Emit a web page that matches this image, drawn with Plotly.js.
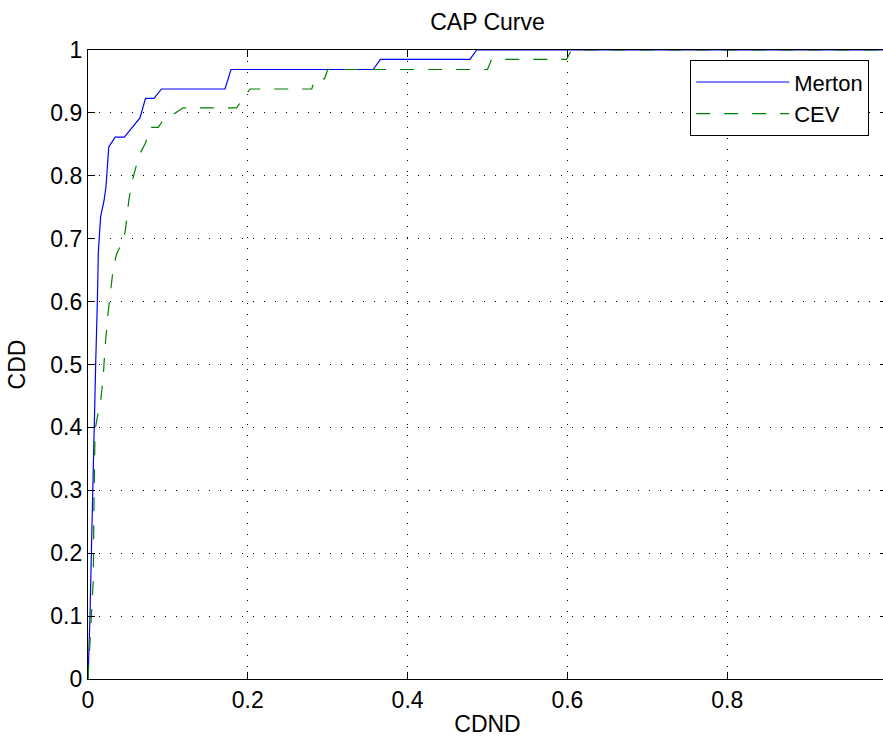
<!DOCTYPE html>
<html>
<head>
<meta charset="utf-8">
<script src="https://cdn.plot.ly/plotly-3.0.1.min.js"></script>
<style>
html, body { margin: 0; padding: 0; overflow: hidden; background: #fff; }
#chart { width: 890px; height: 740px; }
</style>
</head>
<body>
<div id="chart"></div>
<script>
// CAP curve data
const mertonX = [0, 0.0013, 0.0025, 0.0042, 0.0058, 0.0075, 0.0096, 0.0117, 0.013, 0.0158, 0.02, 0.0225, 0.026, 0.034, 0.0455, 0.065, 0.072, 0.0826, 0.092, 0.1715, 0.179, 0.357, 0.366, 0.478, 0.4865, 1];
const mertonY = [0, 0.05, 0.1, 0.2, 0.3, 0.417, 0.5, 0.6, 0.68, 0.735, 0.76, 0.783, 0.846, 0.8615, 0.8615, 0.892, 0.923, 0.923, 0.938, 0.938, 0.969, 0.969, 0.985, 0.985, 1, 1];

const cevX = [0, 0.001, 0.0033, 0.0054, 0.0067, 0.0072, 0.0078, 0.0088, 0.0125, 0.0158, 0.019, 0.0215, 0.025, 0.029, 0.0316, 0.0354, 0.038, 0.0441, 0.0471, 0.051, 0.0546, 0.064, 0.072, 0.0776, 0.088, 0.092, 0.119, 0.186, 0.2028, 0.28, 0.284, 0.296, 0.3, 0.5, 0.505, 0.599, 0.605, 1];
const cevY = [0, 0.025, 0.078, 0.115, 0.16, 0.25, 0.35, 0.396, 0.422, 0.441, 0.48, 0.53, 0.58, 0.625, 0.653, 0.674, 0.682, 0.695, 0.7165, 0.76, 0.788, 0.833, 0.852, 0.877, 0.877, 0.885, 0.908, 0.908, 0.938, 0.938, 0.954, 0.954, 0.969, 0.969, 0.985, 0.985, 1, 1];

const seriesNames = ["Merton", "CEV"];
const xTicks = [0, 0.2, 0.4, 0.6, 0.8, 1];
const xTickText = ["0", "0.2", "0.4", "0.6", "0.8", "1"];
const yTicks = [0, 0.1, 0.2, 0.3, 0.4, 0.5, 0.6, 0.7, 0.8, 0.9, 1];
const yTickText = ["0", "0.1", "0.2", "0.3", "0.4", "0.5", "0.6", "0.7", "0.8", "0.9", "1"];

const FONT = "Liberation Sans, Arial, Helvetica, sans-serif";
const FS = 23;

const traces = [
  { x: mertonX, y: mertonY, name: seriesNames[0], type: "scatter", mode: "lines",
    line: { color: "#0000ff", width: 1.2 } },
  { x: cevX, y: cevY, name: seriesNames[1], type: "scatter", mode: "lines",
    line: { color: "#008000", width: 1.2, dash: "14px,14px" } }
];

const axisCommon = {
  showline: true, linecolor: "#000", linewidth: 1.2, mirror: "ticks",
  ticks: "inside", ticklen: 7, tickcolor: "#000", tickwidth: 1,
  showgrid: true, gridcolor: "#000", gridwidth: 1, griddash: "1px,10px",
  zeroline: false, tickfont: { family: FONT, size: FS, color: "#000" },
  fixedrange: true
};

const layout = {
  width: 890, height: 740,
  margin: { l: 88, r: 3, t: 50, b: 61, autoexpand: false },
  paper_bgcolor: "#fff", plot_bgcolor: "#fff",
  font: { family: FONT, size: FS, color: "#000" },
  title: { text: "CAP Curve", font: { family: FONT, size: FS, color: "#000" },
           x: 0.5, xref: "paper", xanchor: "center", y: 1 - 22 / 740, yref: "container", yanchor: "middle" },
  xaxis: Object.assign({}, axisCommon, {
    range: [0, 1], tickvals: xTicks, ticktext: xTickText,
    title: { text: "CDND", font: { family: FONT, size: FS, color: "#000" }, standoff: 4 },
    automargin: false
  }),
  yaxis: Object.assign({}, axisCommon, {
    range: [0, 1], tickvals: yTicks, ticktext: yTickText,
    title: { text: "CDD", font: { family: FONT, size: FS, color: "#000" }, standoff: 18 },
    automargin: false
  }),
  showlegend: true,
  legend: {
    x: (869 - 88) / 799, xanchor: "right", y: (679 - 60) / 629, yanchor: "top",
    bgcolor: "#fff", bordercolor: "#000", borderwidth: 1.2,
    font: { family: FONT, size: 22, color: "#000" },
    itemwidth: 93, tracegroupgap: 0
  }
};

Plotly.newPlot("chart", traces, layout, { staticPlot: true, displayModeBar: false });
</script>
</body>
</html>
